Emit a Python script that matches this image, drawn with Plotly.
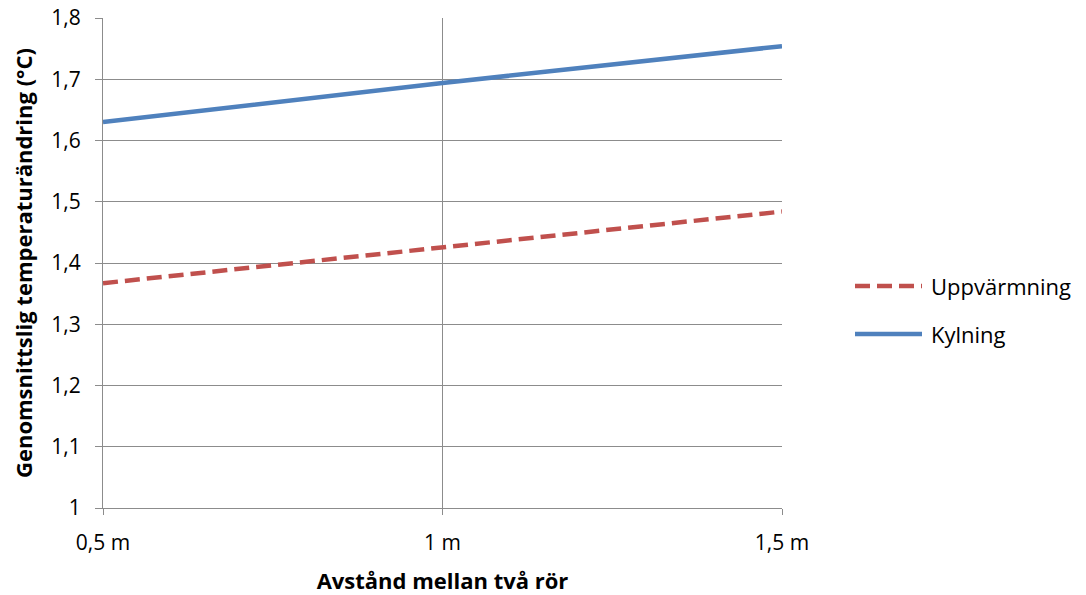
import plotly.graph_objects as go

# Avstånd mellan rören och medelvärde för temperaturändringen
avstand = ["0,5 m", "1 m", "1,5 m"]
uppvarmning = [1.367, 1.425, 1.484]
kylning = [1.630, 1.694, 1.754]
y_ticks = [1.0, 1.1, 1.2, 1.3, 1.4, 1.5, 1.6, 1.7, 1.8]
y_ticktext = ["1", "1,1", "1,2", "1,3", "1,4", "1,5", "1,6", "1,7", "1,8"]

RED = "#c0504d"
BLUE = "#4f81bd"
GRID = "#8c8c8c"
FONT = "Open Sans"

fig = go.Figure()
fig.add_trace(go.Scatter(
    x=avstand, y=uppvarmning, mode="lines", name="Uppvärmning",
    line=dict(color=RED, width=4.5, dash="15px,7px"), showlegend=False,
))
fig.add_trace(go.Scatter(
    x=avstand, y=kylning, mode="lines", name="Kylning",
    line=dict(color=BLUE, width=4.5), showlegend=False,
))

# Förklaring till höger om diagrammet
W, H = 1086, 595
L, R, T, B = 103, 304, 18, 87
pw, ph = W - L - R, H - T - B


def px(x):
    return (x - L) / pw


def py(y):
    return (H - B - y) / ph


legend_items = [("Uppvärmning", RED, "15px,7px", 286), ("Kylning", BLUE, "solid", 334)]
for label, color, dash, yy in legend_items:
    fig.add_shape(type="line", xref="paper", yref="paper",
                  x0=px(855), x1=px(922), y0=py(yy), y1=py(yy),
                  line=dict(color=color, width=4.5, dash=dash))
    fig.add_annotation(xref="paper", yref="paper", x=px(929), y=py(yy),
                       text=label, showarrow=False, xanchor="left", yanchor="middle",
                       font=dict(family=FONT, size=22, color="#000"))

fig.update_layout(
    width=W, height=H,
    margin=dict(l=L, r=R, t=T, b=B, pad=0),
    paper_bgcolor="white", plot_bgcolor="white",
    font=dict(family=FONT, size=21, color="#000"),
)
fig.update_xaxes(
    type="category", range=[0, 2], automargin=False,
    showgrid=True, gridcolor=GRID, gridwidth=1.3,
    showline=True, linecolor=GRID, linewidth=1.3, mirror=False,
    ticks="outside", ticklen=6, tickcolor=GRID, tickwidth=1.3,
    ticklabelstandoff=10,
    tickfont=dict(family=FONT, size=21),
    title=dict(text="<b>Avstånd mellan två rör</b>", font=dict(family=FONT, size=22), standoff=20),
    zeroline=False,
)
fig.update_yaxes(
    range=[1.0, 1.8], tickvals=y_ticks, ticktext=y_ticktext, automargin=False,
    showgrid=True, gridcolor=GRID, gridwidth=1.3,
    showline=True, linecolor=GRID, linewidth=1.3,
    ticks="outside", ticklen=7, tickcolor=GRID, tickwidth=1.3,
    ticklabelstandoff=10,
    tickfont=dict(family=FONT, size=21),
    title=dict(text="<b>Genomsnittslig temperaturändring (°C)</b>", font=dict(family=FONT, size=22), standoff=12),
    zeroline=False,
)

fig.write_html("out.html")
